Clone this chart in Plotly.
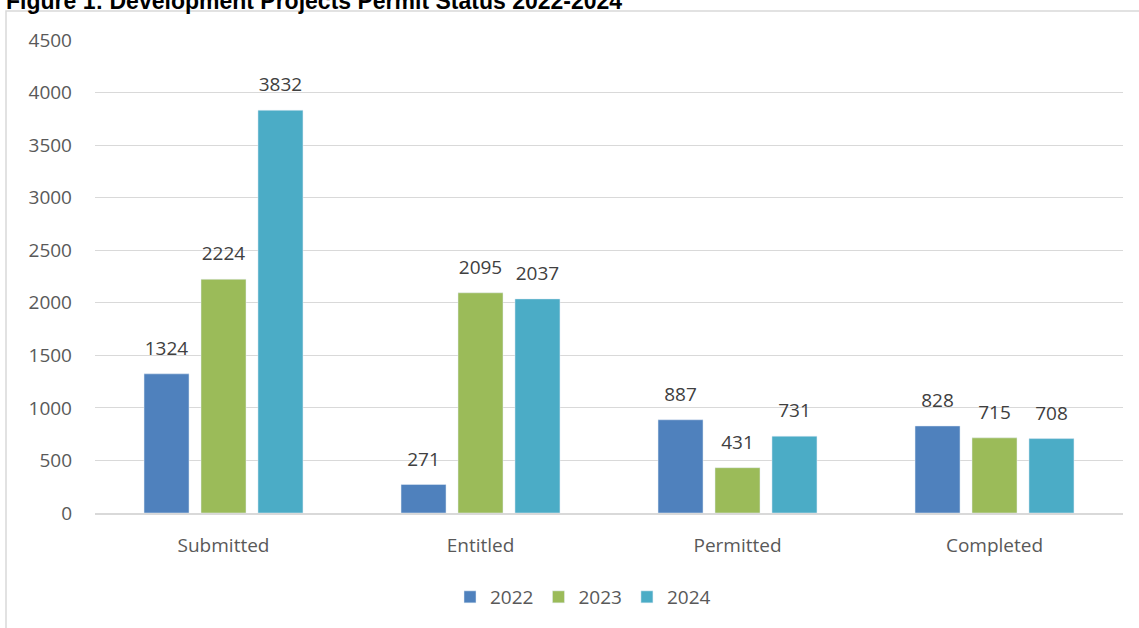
import plotly.graph_objects as go

categories = ["Submitted", "Entitled", "Permitted", "Completed"]
years = ["2022", "2023", "2024"]
values_2022 = [1324, 271, 887, 828]
values_2023 = [2224, 2095, 431, 715]
values_2024 = [3832, 2037, 731, 708]
colors = ["#4F81BD", "#9BBB59", "#4BACC6"]
title_text = "Figure 1: Development Projects Permit Status 2022-2024"

W, H = 1139, 628
L, R, T, B = 95, 16, 40, 115
pw, ph = W - L - R, H - T - B

def px_x(x):
    return (x - L) / pw

def px_y(y):
    return (H - B - y) / ph

fig = go.Figure()
for yr, vals, c in zip(years, [values_2022, values_2023, values_2024], colors):
    fig.add_trace(go.Bar(
        x=categories, y=vals, name=yr, marker_color=c,
        text=[f"<span style='font-size:19px'>{v}</span><br> " for v in vals],
        textposition="outside", cliponaxis=False, constraintext="none",
        textfont=dict(family="Open Sans", size=10, color="#404040"),
    ))

fig.update_layout(
    width=W, height=H,
    margin=dict(l=L, r=R, t=T, b=B),
    paper_bgcolor="white", plot_bgcolor="white",
    barmode="group", bargap=0.335, bargroupgap=0.21,
    font=dict(family="Open Sans", size=19, color="#595959"),
    showlegend=True,
    legend=dict(orientation="h", x=px_x(583), xanchor="center",
                y=px_y(597), yanchor="middle",
                font=dict(family="Open Sans", size=19, color="#595959"),
                itemwidth=30, traceorder="normal"),
    xaxis=dict(showgrid=False, showline=True, linecolor="#d9d9d9", linewidth=1.5,
               ticks="", ticklabelstandoff=14),
    yaxis=dict(range=[0, 4500], dtick=500, showgrid=True, gridcolor="#d9d9d9",
               gridwidth=1, zeroline=False, showline=False, ticks="",
               ticklabelstandoff=22),
)

fig.add_annotation(text=f"<b>{title_text}</b>", xref="paper", yref="paper",
                   x=px_x(4), xanchor="left", y=px_y(16), yanchor="bottom",
                   showarrow=False,
                   font=dict(family="Liberation Sans", size=23, color="black"))

fig.add_shape(type="rect", xref="paper", yref="paper",
              x0=px_x(6), x1=px_x(1200), y0=px_y(700), y1=px_y(11),
              line=dict(color="#d9d9d9", width=1.5), fillcolor="rgba(0,0,0,0)",
              layer="below")

fig.write_html("out.html")
